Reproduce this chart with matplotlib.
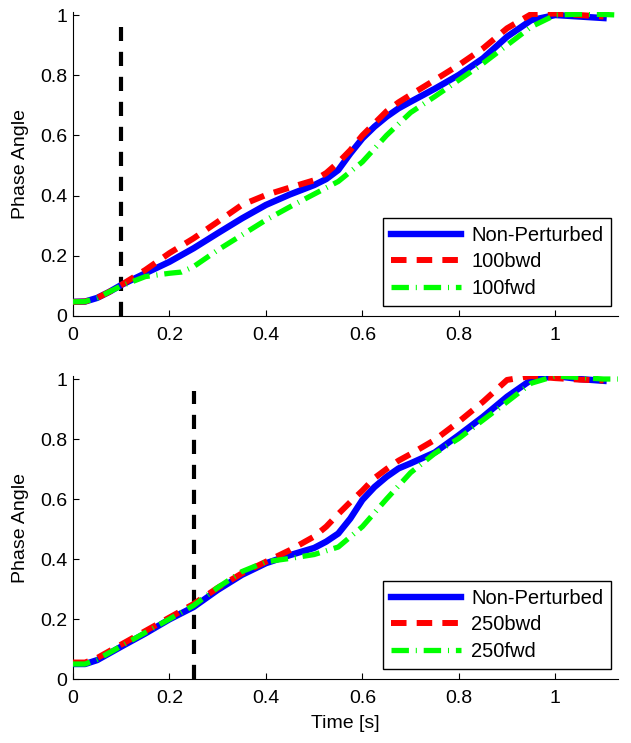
import numpy as np
import matplotlib
matplotlib.use("Agg")
import matplotlib.pyplot as plt

plt.rcParams['font.family'] = ['Liberation Sans', 'DejaVu Sans']
plt.rcParams['font.size'] = 14

# top panel: 100 ms perturbation
t_top = [0, 0.025, 0.05, 0.075, 0.1, 0.15, 0.2, 0.25, 0.3, 0.35, 0.4, 0.45, 0.5, 0.525, 0.55, 0.575,
         0.6, 0.625, 0.65, 0.675, 0.7, 0.75, 0.8, 0.85, 0.9, 0.95, 1.0, 1.05, 1.1]
np_top = [0.047, 0.048, 0.060, 0.080, 0.103, 0.142, 0.180, 0.225, 0.275, 0.324, 0.369, 0.404, 0.435, 0.455, 0.485, 0.540,
          0.590, 0.629, 0.662, 0.690, 0.712, 0.755, 0.801, 0.856, 0.928, 0.983, 1.000, 0.995, 0.990]
bwd_top = [0.047, 0.048, 0.060, 0.080, 0.103, 0.153, 0.209, 0.258, 0.313, 0.369, 0.402, 0.427, 0.451, 0.475, 0.510, 0.551,
           0.600, 0.640, 0.680, 0.710, 0.735, 0.784, 0.834, 0.889, 0.956, 1.003, 1.005, 1.000, 0.995]
t_fwd_top = [0, 0.025, 0.05, 0.075, 0.1, 0.15, 0.2, 0.225, 0.25, 0.3, 0.35, 0.4, 0.45, 0.5, 0.55,
             0.6, 0.65, 0.7, 0.75, 0.8, 0.85, 0.9, 0.95, 1.0, 1.05, 1.1, 1.13]
fwd_top = [0.047, 0.048, 0.060, 0.080, 0.100, 0.131, 0.142, 0.146, 0.164, 0.219, 0.269, 0.319, 0.363, 0.405, 0.447,
           0.512, 0.600, 0.676, 0.729, 0.784, 0.839, 0.900, 0.961, 1.000, 1.003, 1.002, 1.000]

# bottom panel: 250 ms perturbation
t_bot = [0, 0.025, 0.05, 0.1, 0.15, 0.2, 0.25, 0.3, 0.35, 0.4, 0.45, 0.5, 0.525, 0.55, 0.575,
         0.6, 0.625, 0.65, 0.675, 0.7, 0.75, 0.8, 0.85, 0.9, 0.95, 1.0, 1.05, 1.1]
np_bot = [0.050, 0.050, 0.063, 0.108, 0.152, 0.199, 0.240, 0.297, 0.347, 0.386, 0.413, 0.437, 0.458, 0.485, 0.535,
          0.597, 0.640, 0.674, 0.702, 0.719, 0.755, 0.813, 0.874, 0.941, 0.997, 1.010, 1.000, 0.994]
bwd_bot = [0.055, 0.055, 0.070, 0.115, 0.160, 0.205, 0.250, 0.304, 0.352, 0.391, 0.430, 0.475, 0.508, 0.550, 0.590,
           0.628, 0.670, 0.700, 0.728, 0.750, 0.797, 0.858, 0.924, 0.997, 1.010, 1.003, 0.998, 0.995]
t_fwd_bot = [0, 0.025, 0.05, 0.1, 0.15, 0.2, 0.25, 0.3, 0.35, 0.4, 0.45, 0.5, 0.55,
             0.6, 0.65, 0.7, 0.75, 0.8, 0.85, 0.9, 0.95, 1.0, 1.05, 1.1, 1.13]
fwd_bot = [0.050, 0.050, 0.065, 0.110, 0.155, 0.200, 0.245, 0.305, 0.358, 0.391, 0.402, 0.415, 0.440,
           0.508, 0.600, 0.688, 0.752, 0.802, 0.863, 0.924, 0.986, 1.010, 1.005, 1.000, 1.000]

perturb_times = [0.1, 0.25]
labels_top = ['Non-Perturbed', '100bwd', '100fwd']
labels_bot = ['Non-Perturbed', '250bwd', '250fwd']
ticks = [0, 0.2, 0.4, 0.6, 0.8, 1]
tick_labels = ['0', '0.2', '0.4', '0.6', '0.8', '1']

fig = plt.figure(figsize=(6.31, 7.43), dpi=100)
ax1 = fig.add_axes([0.1157, 0.5747, 0.8637, 0.4091])
ax2 = fig.add_axes([0.1157, 0.0861, 0.8637, 0.4078])

panels = [
    (ax1, t_top, np_top, t_top, bwd_top, t_fwd_top, fwd_top, perturb_times[0], labels_top),
    (ax2, t_bot, np_bot, t_bot, bwd_bot, t_fwd_bot, fwd_bot, perturb_times[1], labels_bot),
]

for ax, tn, yn, tb, yb, tf, yf, tp, labs in panels:
    # perturbation onset
    ax.plot([tp, tp], [0, 0.96], color='black', lw=3, dashes=(3.4, 2.6), zorder=1)
    l1, = ax.plot(tn, yn, color='#0000ff', lw=4.6, solid_joinstyle='round', zorder=3)
    l2, = ax.plot(tb, yb, color='#ff0000', lw=4.3, dashes=(2.6, 1.7), zorder=4)
    l3, = ax.plot(tf, yf, color='#00ff00', lw=3.8, dashes=(3.3, 1.3, 0.2, 1.3), zorder=5)
    ax.set_xlim(0, 1.13)
    ax.set_ylim(0, 1.01)
    ax.set_xticks(ticks)
    ax.set_xticklabels(tick_labels)
    ax.set_yticks(ticks)
    ax.set_yticklabels(tick_labels)
    ax.tick_params(direction='in', length=4, width=0.8, labelsize=14)
    ax.tick_params(axis='x', pad=8)
    ax.tick_params(axis='y', pad=4)
    ax.spines['top'].set_visible(False)
    ax.spines['right'].set_visible(False)
    ax.set_ylabel('Phase Angle', fontsize=14, labelpad=8)
    leg = ax.legend([l1, l2, l3], labs, loc='lower right', bbox_to_anchor=(0.988, 0.033),
                    borderaxespad=0, fancybox=False, framealpha=1, edgecolor='black',
                    handlelength=3.5, handletextpad=0.5, labelspacing=0.38, borderpad=0.4,
                    fontsize=14.5)
    leg.get_frame().set_linewidth(1.0)

ax2.set_xlabel('Time [s]', fontsize=14, labelpad=6)

fig.savefig('out.png', dpi=100)
